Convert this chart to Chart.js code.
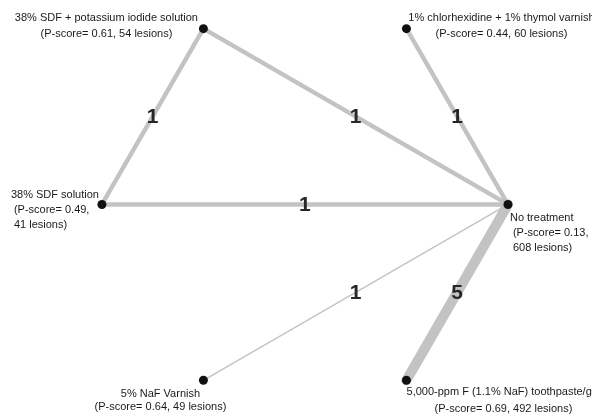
<!DOCTYPE html>
<html lang="en">
<head>
  <meta charset="UTF-8">
  <title>Network plot</title>
  <script src="https://cdn.jsdelivr.net/npm/chart.js"></script>
  <style>
    html, body { margin: 0; padding: 0; background: #fff; }
    #wrap { width: 592px; height: 416px; }
  </style>
</head>
<body>
  <div id="wrap"><canvas id="networkChart"></canvas></div>

  <script>
    // Treatments (nodes), placed on a circle in unit coordinates
    const nodeNames = [
      'No treatment',
      '1% chlorhexidine + 1% thymol varnish',
      '38% SDF + potassium iodide solution',
      '38% SDF solution',
      '5% NaF Varnish',
      '5,000-ppm F (1.1% NaF) toothpaste/gel'
    ];
    const nodeX = [1, 0.5, -0.5, -1, -0.5, 0.5];
    const nodeY = [0, 0.866, 0.866, 0, -0.866, -0.866];
    const pScores = ['0.13', '0.44', '0.61', '0.49', '0.64', '0.69'];
    const lesions = [608, 60, 54, 41, 49, 492];

    // Direct comparisons (edges)
    const edgeFrom = [2, 2, 1, 3, 4, 5];
    const edgeTo = [3, 0, 0, 0, 0, 0];
    const edgeStudies = [1, 1, 1, 1, 1, 5];
    const edgeWeight = [1, 1, 1, 1, 0.33, 2.3];

    const ctx = document.getElementById('networkChart').getContext('2d');

    const edgeDatasets = edgeFrom.map((from, i) => ({
      data: [
        { x: nodeX[from], y: nodeY[from] },
        { x: nodeX[edgeTo[i]], y: nodeY[edgeTo[i]] }
      ],
      showLine: true,
      borderColor: '#c3c3c3',
      borderWidth: edgeWeight[i] * 4.4,
      borderCapStyle: 'round',
      pointRadius: 0,
      order: 1
    }));

    const nodeDataset = {
      data: nodeX.map((x, i) => ({ x: x, y: nodeY[i] })),
      pointRadius: 4.5,
      pointBackgroundColor: '#111',
      pointBorderWidth: 0,
      order: 0
    };

    // label placement per node, in pixels from the dot
    const labelPlace = [
      { dx: 5, dy: 14, align: 'left', gap: 15, split: true },
      { dx: 95, dy: -11, align: 'center', gap: 16, split: false },
      { dx: -97, dy: -11, align: 'center', gap: 16, split: false },
      { dx: -88, dy: -9, align: 'left', gap: 15, split: true },
      { dx: -43, dy: 14, align: 'center', gap: 13, split: false },
      { dx: 97, dy: 12, align: 'center', gap: 17, split: false }
    ];

    const labelsPlugin = {
      id: 'netLabels',
      afterDatasetsDraw(chart) {
        const c = chart.ctx;
        const xs = chart.scales.x, ys = chart.scales.y;
        c.save();
        c.textBaseline = 'middle';

        // study counts on edges
        c.font = 'bold 21px "Liberation Sans", Arial, sans-serif';
        c.fillStyle = '#262626';
        c.textAlign = 'center';
        edgeFrom.forEach((from, i) => {
          const to = edgeTo[i];
          const mx = xs.getPixelForValue((nodeX[from] + nodeX[to]) / 2);
          const my = ys.getPixelForValue((nodeY[from] + nodeY[to]) / 2);
          c.fillText(String(edgeStudies[i]), mx, my + 1);
        });

        // treatment labels
        c.font = '11px "Liberation Sans", Arial, sans-serif';
        c.fillStyle = '#1a1a1a';
        nodeNames.forEach((name, i) => {
          const p = labelPlace[i];
          const px = xs.getPixelForValue(nodeX[i]);
          const py = ys.getPixelForValue(nodeY[i]);
          const lines = p.split
            ? [name, '(P-score= ' + pScores[i] + ',', lesions[i] + ' lesions)']
            : [name, '(P-score= ' + pScores[i] + ', ' + lesions[i] + ' lesions)'];
          c.textAlign = p.align;
          lines.forEach((ln, k) => {
            const shift = (p.split && k === 0) ? -3 : 0;
            c.fillText(ln, px + p.dx + shift, py + p.dy + k * p.gap);
          });
        });
        c.restore();
      }
    };

    new Chart(ctx, {
      type: 'scatter',
      data: { datasets: edgeDatasets.concat([nodeDataset]) },
      options: {
        responsive: true,
        maintainAspectRatio: false,
        animation: false,
        layout: { padding: 0, autoPadding: false },
        plugins: {
          legend: { display: false },
          tooltip: { enabled: false }
        },
        scales: {
          x: { type: 'linear', min: -1.502, max: 1.414, display: false },
          y: { type: 'linear', min: -1.042, max: 1.007, display: false }
        }
      },
      plugins: [labelsPlugin]
    });
  </script>
</body>
</html>
